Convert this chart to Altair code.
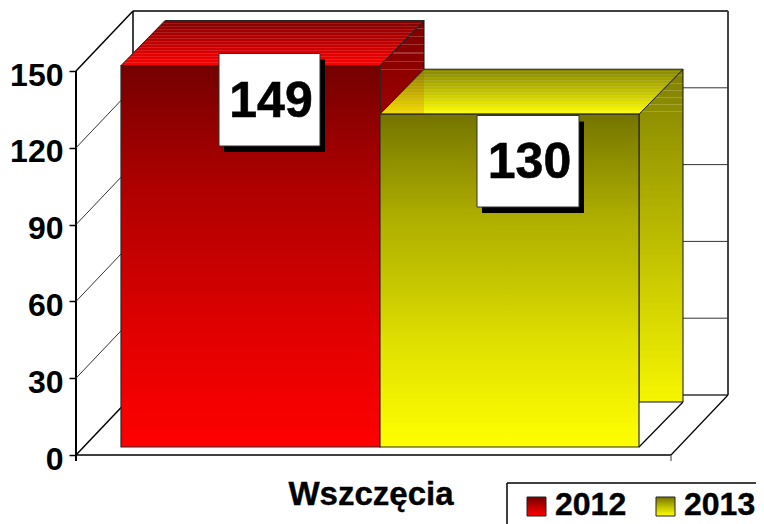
import altair as alt
import pandas as pd

# ---- data ----
series = ["2012", "2013"]
values = [149, 130]
ticks = [0, 30, 60, 90, 120, 150]
category = "Wszczęcia"

# ---- layout (picture pixels) ----
W, H = 748, 516
OX, OY = 8, 8
X0, X1 = 76, 671          # front floor edge
Y0, PX_PER_UNIT = 455, 2.56
WALL_DX, WALL_DY = 57, 60  # depth of the chart box
BAR_DX, BAR_DY = 44, 45    # depth of a bar
BAR_BASE = 447
BAR_LEFT = [121, 380]
BAR_W = 259
SIDE_FLOOR = 402


def ux(px):
    return (px - X0) / (X1 - X0)


def uy(py):
    return (Y0 - py) / PX_PER_UNIT


def hexc(c):
    return "#%02x%02x%02x" % tuple(int(round(v)) for v in c)


def mix(a, b, t):
    return tuple(a[i] + (b[i] - a[i]) * t for i in range(3))


def grad(stops):
    return alt.LinearGradient(
        gradient="linear", x1=0, x2=0, y1=0, y2=1,
        stops=[alt.GradientStop(color=c, offset=o) for o, c in stops],
    )


def ramp(tone, levels):
    return grad([(o, hexc(tuple(tone[i] * v / 255 for i in range(3)))) for o, v in levels])


def striped(tone, lo, hi, n, amount):
    stops = []
    for i in range(n):
        t0, t1, t2 = i / n, (i + 0.65) / n, (i + 1) / n
        base = tuple(tone[k] * (lo + (hi - lo) * (t0 + t2) / 2) / 255 for k in range(3))
        light = mix(base, (255, 255, 255), amount)
        stops += [(t0, hexc(base)), (t1, hexc(base)), (t1, hexc(light)), (t2, hexc(light))]
    return grad(stops)


def side_grad(tone, n_stripes, span):
    lo, hi = 128, 246
    stops = []
    for i in range(n_stripes):
        a = i / n_stripes * span
        b = (i + 0.85) / n_stripes * span
        c = (i + 1) / n_stripes * span
        base = tuple(tone[k] * (lo + (hi - lo) * a) / 255 for k in range(3))
        light = mix(base, (255, 255, 255), 0.2)
        stops += [(a, hexc(base)), (b, hexc(base)), (b, hexc(light)), (c, hexc(light))]
    stops += [(span, hexc(tuple(tone[k] * (lo + (hi - lo) * span) / 255 for k in range(3)))),
              (1, hexc(tuple(tone[k] * hi / 255 for k in range(3))))]
    return grad(stops)


FRONT_LEVELS = [(0, 116), (0.14, 143), (0.31, 174), (0.5, 197), (0.68, 223), (1, 255)]
TONES = [(255, 0, 0), (255, 255, 0)]

x_scale = alt.Scale(domain=[ux(OX), ux(OX + W)], range=[0, W], nice=False, zero=False)
y_scale = alt.Scale(domain=[uy(OY + H), uy(OY)], range=[H, 0], nice=False, zero=False)
y_axis = alt.Axis(
    values=ticks, offset=-(X0 - OX), tickSize=7, tickWidth=1.5, tickColor="#000000",
    domain=False, grid=False, labelFont="Liberation Sans", labelFontWeight="bold",
    labelFontSize=32, labelColor="#000000", labelPadding=6, labelFlush=False,
    labelOffset=4, labelOverlap=False, title=None)
X = alt.X("x:Q", scale=x_scale, axis=None, title=None)
X2 = alt.X2("x2:Q")
Y = alt.Y("y:Q", scale=y_scale, axis=y_axis, title=None)
Y2 = alt.Y2("y2:Q")


def seg(x, y, x2, y2, width=1.0, color="#000000"):
    return dict(x=ux(x), x2=ux(x2), y=uy(y), y2=uy(y2), w=width, c=color)


# ---- chart box ----
ty = lambda v: Y0 - v * PX_PER_UNIT
TOP = ticks[-1]
XB0, XB1 = X0 + WALL_DX, X1 + WALL_DX
frame = [
    seg(X0, ty(TOP), X0, Y0 + 6, 2.0),
    seg(X0, ty(TOP), XB0, ty(TOP) - WALL_DY, 1.5),
    seg(XB0, ty(TOP) - WALL_DY, XB1, ty(TOP) - WALL_DY, 1.5),
    seg(XB0, ty(TOP) - WALL_DY, XB0, Y0 - WALL_DY, 1.5),
    seg(XB1, ty(TOP) - WALL_DY, XB1, Y0 - WALL_DY, 2.0, "#444444"),
    seg(XB0, Y0 - WALL_DY, XB1, Y0 - WALL_DY, 1.5, "#333333"),
    seg(X0, Y0, X1, Y0, 1.5),
    seg(X0, Y0, XB0, Y0 - WALL_DY, 1.5),
    seg(X1, Y0, XB1, Y0 - WALL_DY, 1.2),
    seg(X1, Y0, X1, Y0 + 6, 1.2, "#555555"),
]
for t in ticks[1:-1]:
    frame.append(seg(X0, ty(t), XB0, ty(t) - WALL_DY, 1.0, "#333333"))
    frame.append(seg(XB0, ty(t) - WALL_DY, XB1, ty(t) - WALL_DY, 1.0, "#333333"))

frame_layer = alt.Chart(pd.DataFrame(frame)).mark_rule().encode(
    x=X, x2=X2, y=Y, y2=Y2,
    strokeWidth=alt.StrokeWidth("w:Q", scale=None),
    color=alt.Color("c:N", scale=None),
)

# ---- bars ----
layers = [frame_layer]
for i, (left, v, tone) in enumerate(zip(BAR_LEFT, values, TONES)):
    right = left + BAR_W
    top = BAR_BASE - v * PX_PER_UNIT
    side = pd.DataFrame([
        dict(x=ux(right), y=uy(top), y2=uy(SIDE_FLOOR)),
        dict(x=ux(right + BAR_DX), y=uy(top - BAR_DY), y2=uy(SIDE_FLOOR)),
    ])
    layers.append(alt.Chart(side).mark_area(
        color=side_grad(tone, 6, 0.13), stroke="#111111", strokeWidth=1).encode(x=X, y=Y, y2=Y2))
    lid = pd.DataFrame([
        dict(y=uy(top), x=ux(left), x2=ux(right)),
        dict(y=uy(top - BAR_DY), x=ux(left + BAR_DX), x2=ux(right + BAR_DX)),
    ])
    layers.append(alt.Chart(lid).mark_area(
        orient="horizontal", color=striped(tone, 130, 255, 15, 0.12),
        stroke="#222222", strokeWidth=1).encode(y=Y, x=X, x2=X2))
    if i == 1:
        # the previous bar's side face shows through the lid
        prev = pd.DataFrame([
            dict(x=ux(left), y=uy(top), y2=uy(top)),
            dict(x=ux(left + BAR_DX), y=uy(top - BAR_DY), y2=uy(top)),
        ])
        layers.append(alt.Chart(prev).mark_area(color="#c04000", opacity=0.18).encode(x=X, y=Y, y2=Y2))
        foot = pd.DataFrame([seg(right, BAR_BASE, right + BAR_DX, BAR_BASE - BAR_DY, 1.2)])
        layers.append(alt.Chart(foot).mark_rule(color="#000000", strokeWidth=1.2).encode(x=X, x2=X2, y=Y, y2=Y2))
    front = pd.DataFrame([dict(x=ux(left), x2=ux(right), y=v + uy(BAR_BASE), y2=uy(BAR_BASE))])
    layers.append(alt.Chart(front).mark_rect(
        color=ramp(tone, FRONT_LEVELS), stroke="#2a2a2a", strokeWidth=1.2).encode(x=X, x2=X2, y=Y, y2=Y2))

# ---- value labels ----
BOXES = [(219, 53.5, 320, 146), (477, 115.5, 579, 207)]
BASELINES = [116.5, 178]
SHADOW = (5, 6)
shadow_rows, box_rows, text_rows = [], [], []
for (a, b, c, d), base, v in zip(BOXES, BASELINES, values):
    shadow_rows.append(dict(x=ux(a + SHADOW[0]), x2=ux(c + SHADOW[0]), y=uy(b + SHADOW[1]), y2=uy(d + SHADOW[1])))
    box_rows.append(dict(x=ux(a), x2=ux(c), y=uy(b), y2=uy(d)))
    text_rows.append(dict(x=ux((a + c) / 2 + 1.5), y=uy(base), t=str(v)))

layers.append(alt.Chart(pd.DataFrame(shadow_rows)).mark_rect(color="#000000").encode(x=X, x2=X2, y=Y, y2=Y2))
layers.append(alt.Chart(pd.DataFrame(box_rows)).mark_rect(color="#ffffff", stroke="#333333", strokeWidth=1).encode(x=X, x2=X2, y=Y, y2=Y2))
layers.append(alt.Chart(pd.DataFrame(text_rows)).mark_text(
    font="Liberation Sans", fontWeight="bold", fontSize=50, color="#000000", stroke="#000000",
    strokeWidth=0.6, align="center", baseline="alphabetic").encode(x=X, y=Y, text="t:N"))

# ---- category label ----
layers.append(alt.Chart(pd.DataFrame([dict(x=ux(371), y=uy(505), t=category)])).mark_text(
    font="Liberation Sans", fontWeight="bold", fontSize=33, color="#000000", stroke="#000000",
    strokeWidth=0.4, align="center", baseline="alphabetic").encode(x=X, y=Y, text="t:N"))

# ---- legend ----
LEG_L, LEG_T = 507, 483
legend_box = pd.DataFrame([
    seg(LEG_L, LEG_T, OX + W, LEG_T, 1.5),
    seg(LEG_L, LEG_T, LEG_L, OY + H, 1.5),
])
layers.append(alt.Chart(legend_box).mark_rule(color="#000000", strokeWidth=1.5).encode(x=X, x2=X2, y=Y, y2=Y2))
SWATCH_X = [527, 656]
TEXT_X = [555, 684]
for s, sx, tx, tone in zip(series, SWATCH_X, TEXT_X, TONES):
    sw = pd.DataFrame([dict(x=ux(sx), x2=ux(sx + 19), y=uy(497), y2=uy(516))])
    layers.append(alt.Chart(sw).mark_rect(
        color=ramp(tone, [(0, 116), (0.5, 190), (1, 255)]), stroke="#222222", strokeWidth=1
    ).encode(x=X, x2=X2, y=Y, y2=Y2))
    layers.append(alt.Chart(pd.DataFrame([dict(x=ux(tx), y=uy(515), t=s)])).mark_text(
        font="Liberation Sans", fontWeight="bold", fontSize=32, color="#000000", stroke="#000000",
        strokeWidth=0.4, align="left", baseline="alphabetic").encode(x=X, y=Y, text="t:N"))

chart = alt.layer(*layers).properties(
    width=W, height=H, padding=0, background="#ffffff",
    autosize=alt.AutoSizeParams(type="none"),
).configure_view(stroke=None)

chart.save("out.html", embed_options={"renderer": "svg", "actions": False})
